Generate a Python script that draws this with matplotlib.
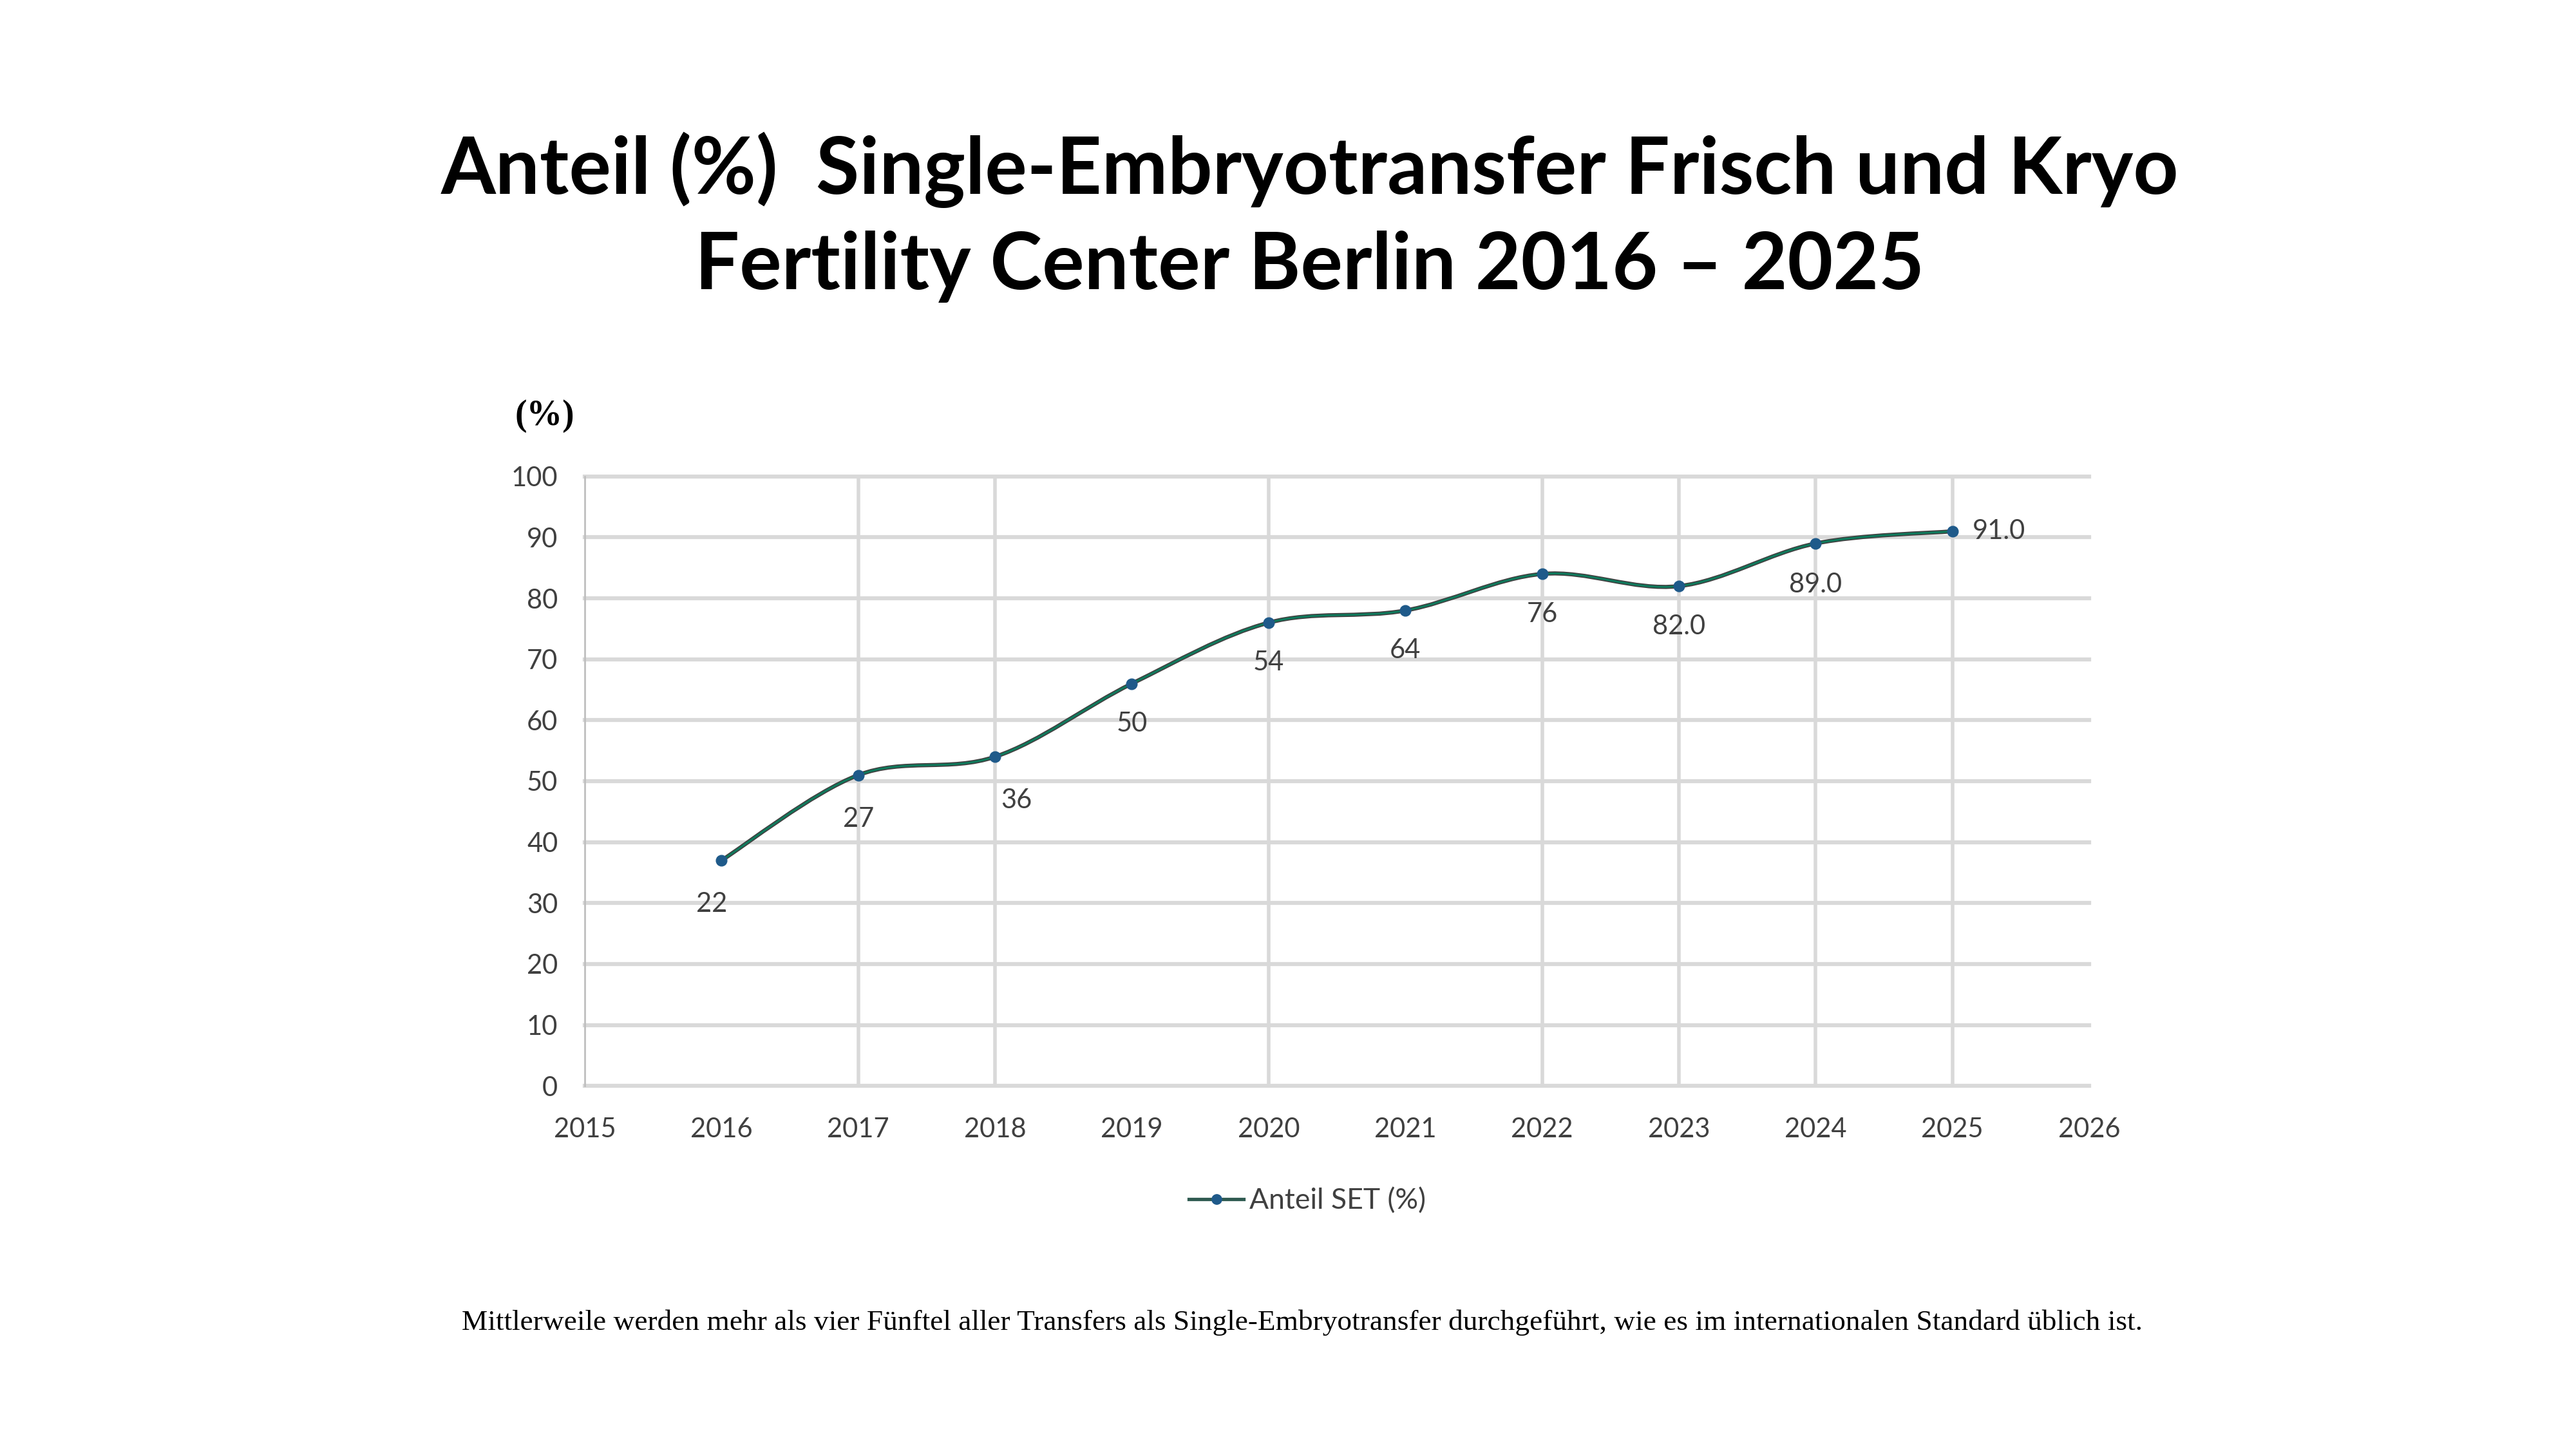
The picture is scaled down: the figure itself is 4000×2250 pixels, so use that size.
import matplotlib
matplotlib.use("Agg")
import matplotlib.pyplot as plt
from matplotlib.path import Path
from matplotlib.patches import PathPatch
from matplotlib.lines import Line2D
import numpy as np

# ---- data ----
years = [2016, 2017, 2018, 2019, 2020, 2021, 2022, 2023, 2024, 2025]
values = [37, 51, 54, 66, 76, 78, 84, 82, 89, 91]
labels = ["22", "27", "36", "50", "54", "64", "76", "82.0", "89.0", "91.0"]
vgrid_years = [2017, 2018, 2020, 2022, 2023, 2024, 2025]
yticks = list(range(0, 101, 10))
xticks = list(range(2015, 2027))
title1 = "Anteil (%)  Single-Embryotransfer Frisch und Kryo"
title2 = "Fertility Center Berlin 2016 \u2013 2025"
footnote = ("Mittlerweile werden mehr als vier F\u00fcnftel aller Transfers als "
            "Single-Embryotransfer durchgef\u00fchrt, wie es im internationalen "
            "Standard \u00fcblich ist.")
series_name = "Anteil SET (%)"

SANS = "Lato"
SERIF = "Liberation Serif"
GRID = "#d9d9d9"
TXT = "#404040"

fig = plt.figure(figsize=(40, 22.5), dpi=100)
ax = fig.add_axes([0.227, 0.2506, 0.584, 0.4206])
ax.set_xlim(2015, 2026)
ax.set_ylim(0, 100)

# grid
for y in yticks:
    ax.axhline(y, color=GRID, lw=4.5, zorder=1, clip_on=False)
for x in vgrid_years:
    ax.axvline(x, color=GRID, lw=4.0, zorder=1)

for s in ["top", "right", "bottom"]:
    ax.spines[s].set_visible(False)
ax.spines["left"].set_color("#bfbfbf")
ax.spines["left"].set_linewidth(2)

ax.set_xticks(xticks)
ax.set_yticks(yticks)
ax.tick_params(length=0, labelsize=30, labelcolor=TXT)
ax.tick_params(axis="y", pad=30)
ax.tick_params(axis="x", pad=35)
for lab in ax.get_xticklabels() + ax.get_yticklabels():
    lab.set_fontfamily(SANS)

# smooth curve (Catmull-Rom -> cubic Bezier) through the data points
P = np.column_stack([years, values]).astype(float)
n = len(P)
verts = [tuple(P[0])]
codes = [Path.MOVETO]
for i in range(n - 1):
    p0 = P[i - 1] if i > 0 else P[i]
    p1 = P[i]
    p2 = P[i + 1]
    p3 = P[i + 2] if i + 2 < n else P[i + 1]
    c1 = p1 + (p2 - p0) / 6.0
    c2 = p2 - (p3 - p1) / 6.0
    verts += [tuple(c1), tuple(c2), tuple(p2)]
    codes += [Path.CURVE4] * 3
path = Path(verts, codes)
ax.add_patch(PathPatch(path, fill=False, edgecolor="#404040", lw=4.6, zorder=3, capstyle="round"))
ax.add_patch(PathPatch(path, fill=False, edgecolor="#0e7a5c", lw=2.2, zorder=3.5, capstyle="round"))

ax.plot(years, values, linestyle="none", marker="o", markersize=12,
        markerfacecolor="#1f5a8a", markeredgecolor="#1f5a8a", zorder=4)

# data labels
offsets = [(-11, -49), (0, -49), (24, -49), (0, -45), (0, -45),
           (0, -45), (0, -45), (0, -45), (0, -46), (52, 0)]
for x, y, t, off in zip(years, values, labels, offsets):
    ax.annotate(t, (x, y), xytext=off, textcoords="offset points",
                ha="center", va="center", fontsize=30, color=TXT,
                fontfamily=SANS, zorder=5)

# titles and texts
fig.text(0.5085, 0.8827, title1, ha="center", va="center", fontsize=88,
         fontweight="bold", fontfamily=SANS, color="black")
fig.text(0.5085, 0.8160, title2, ha="center", va="center", fontsize=88,
         fontweight="bold", fontfamily=SANS, color="black")
fig.text(0.2115, 0.7129, "(%)", ha="center", va="center", fontsize=40,
         fontweight="bold", fontfamily=SERIF, color="black")
fig.text(0.5055, 0.0871, footnote, ha="center", va="center", fontsize=32.7,
         fontfamily=SERIF, color="black")

handle = Line2D([], [], color="#2f5a50", lw=3.8, marker="o", markersize=11,
                markerfacecolor="#1f5a8a", markeredgecolor="#1f5a8a")
fig.legend([handle], [series_name], loc="center", bbox_to_anchor=(0.5075, 0.171),
           frameon=False, prop={"family": SANS, "size": 32}, labelcolor=TXT,
           handlelength=1.9, handletextpad=0.2)

fig.savefig("out.png", dpi=100, facecolor="white")
